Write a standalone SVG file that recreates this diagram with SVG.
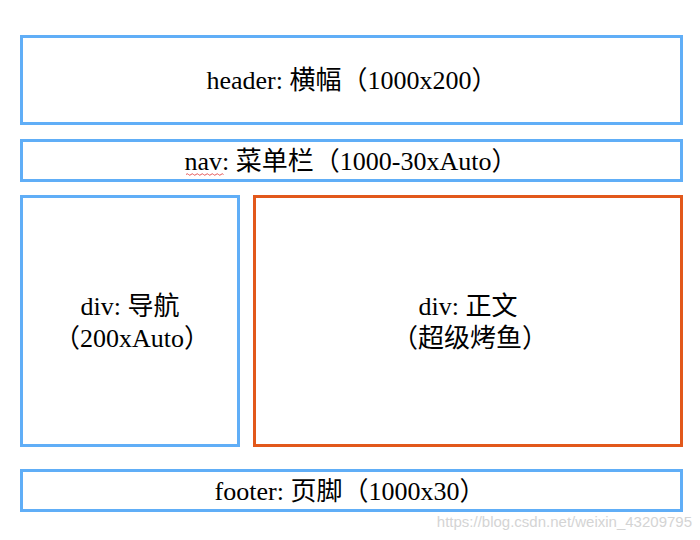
<svg xmlns="http://www.w3.org/2000/svg" width="700" height="540" viewBox="0 0 700 540">
<style>
.box{fill:#fff;stroke:#60aef7;stroke-width:3}
.org{fill:#fff;stroke:#e2581b;stroke-width:3}
.t{font-family:"Liberation Serif","Noto Sans CJK SC",serif;font-size:26px;fill:#000;text-anchor:middle}
.wm{font-family:"Liberation Sans",sans-serif;font-size:15px;fill:#d4d4d4;text-anchor:end}
</style>
<rect width="700" height="540" fill="#fff"/>
<g id="header"><rect class="box" x="21.5" y="36.5" width="660" height="87"/><text class="t" x="352" y="89">header: 横幅（1000x200）</text></g>
<g id="nav"><rect class="box" x="21.5" y="140.5" width="660" height="40"/><text class="t" x="351" y="170">nav: 菜单栏（1000-30xAuto）</text>
<path d="M186 174.5 q1.25 -1.5 2.5 0 t2.5 0 t2.5 0 t2.5 0 t2.5 0 t2.5 0 t2.5 0 t2.5 0 t2.5 0 t2.5 0 t2.5 0 t2.5 0 t2.5 0 t2.5 0 t2.5 0" fill="none" stroke="#e03030" stroke-width="0.8"/></g>
<g id="div-nav"><rect class="box" x="21.5" y="196.5" width="217" height="249"/><text class="t" x="130" y="315">div: 导航</text><text class="t" x="132" y="347">（200xAuto）</text></g>
<g id="div-main"><rect class="org" x="254.5" y="196.5" width="427" height="249"/><text class="t" x="468" y="315">div: 正文</text><text class="t" x="470" y="347">（超级烤鱼）</text></g>
<g id="footer"><rect class="box" x="21.5" y="470.5" width="660" height="40"/><text class="t" x="350" y="500">footer: 页脚（1000x30）</text></g>
<g id="connectors"></g>
<text class="wm" x="692" y="527">https://blog.csdn.net/weixin_43209795</text>
</svg>
